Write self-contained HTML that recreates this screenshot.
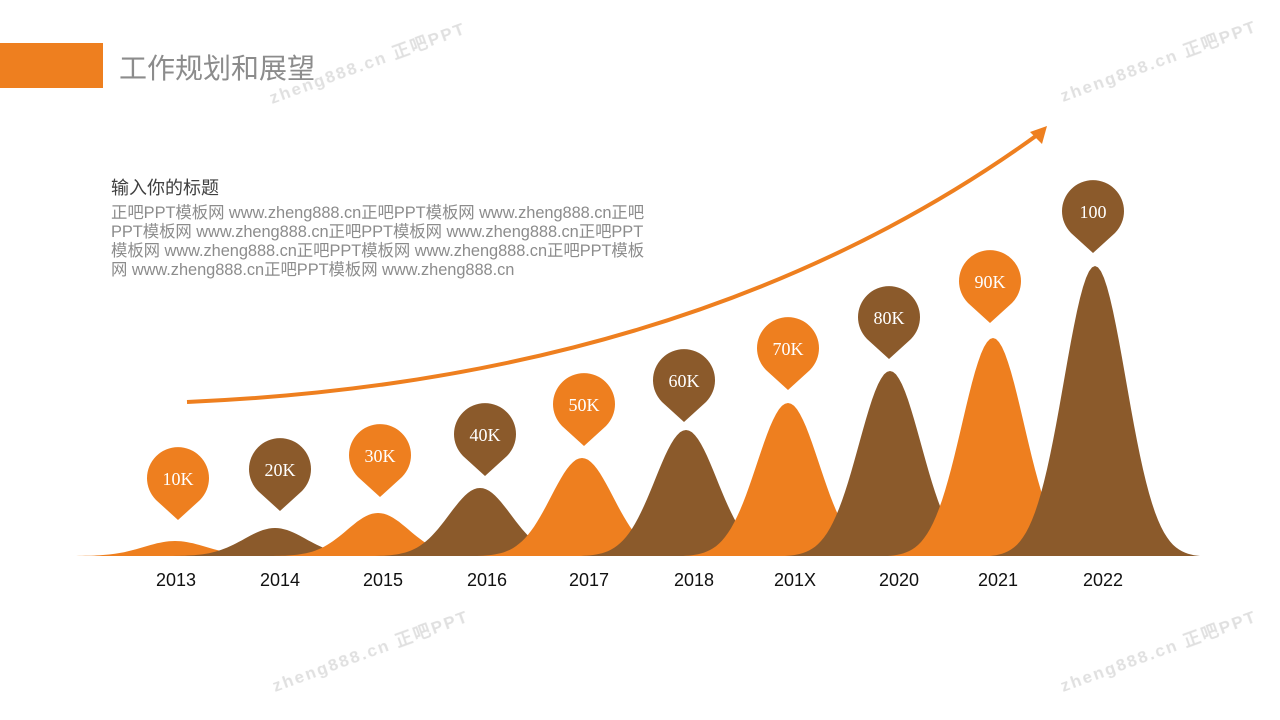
<!DOCTYPE html>
<html><head><meta charset="utf-8">
<style>
body{margin:0;width:1280px;height:720px;background:#fff;position:relative;overflow:hidden;font-family:"Liberation Sans","Noto Sans CJK SC",sans-serif}
.bar{position:absolute;left:0;top:43px;width:103px;height:45px;background:#EE7F1F}
.title{position:absolute;left:119px;top:51px;font-size:28px;color:#8c8c8c;line-height:36px}
.sub{position:absolute;left:111px;top:176px;font-size:18px;color:#404040;line-height:24px}
.body{position:absolute;left:111px;top:204px;font-size:16.4px;color:#8c8c8c;line-height:19px;white-space:nowrap;letter-spacing:-0.05px}
svg{position:absolute;left:0;top:0}
</style></head><body>
<div class="bar"></div>
<div class="title">工作规划和展望</div>
<div class="sub">输入你的标题</div>
<div class="body">正吧PPT模板网 www.zheng888.cn正吧PPT模板网 www.zheng888.cn正吧<br>PPT模板网 www.zheng888.cn正吧PPT模板网 www.zheng888.cn正吧PPT<br>模板网 www.zheng888.cn正吧PPT模板网 www.zheng888.cn正吧PPT模板<br>网 www.zheng888.cn正吧PPT模板网 www.zheng888.cn</div>
<svg id="s" width="1280" height="720" xmlns="http://www.w3.org/2000/svg">
<g id="curves"></g>
<path d="M187,402 Q700,380 1040,133" fill="none" stroke="#EE7F1F" stroke-width="4"/>
<polygon points="1047,126 1030,132 1042,144" fill="#EE7F1F"/>
<g id="pins"></g>
<g font-size="18" fill="#111" text-anchor="middle" font-family="Liberation Sans,sans-serif">
<text x="176" y="586">2013</text><text x="280" y="586">2014</text><text x="383" y="586">2015</text><text x="487" y="586">2016</text><text x="589" y="586">2017</text><text x="694" y="586">2018</text><text x="795" y="586">201X</text><text x="899" y="586">2020</text><text x="998" y="586">2021</text><text x="1103" y="586">2022</text>
</g>
<g font-size="17" fill="#ccc" opacity="0.6" font-weight="bold" font-family="Liberation Sans,sans-serif" letter-spacing="2">
<text transform="translate(272,104) rotate(-20)">zheng888.cn 正吧PPT</text>
<text transform="translate(1063,102) rotate(-20)">zheng888.cn 正吧PPT</text>
<text transform="translate(275,692) rotate(-20)">zheng888.cn 正吧PPT</text>
<text transform="translate(1063,692) rotate(-20)">zheng888.cn 正吧PPT</text>
</g>
</svg>
<script>
var O="#EE7F1F",B="#8B5A2B";
var c=[[175,541,O],[275,528,B],[378,513,O],[480,488,B],[582,458,O],[686,430,B],[788,403,O],[890,371,B],[993,338,O],[1095,266,B]];
var base=556,g="";
c.forEach(function(d){var h=base-d[1],s=31,R=105,p="M"+(d[0]-R)+","+base;
for(var x=-R;x<=R;x+=3){var t=Math.exp(-x*x/(2*s*s));var e=Math.exp(-R*R/(2*s*s));t=(t-e)/(1-e);p+=" L"+(d[0]+x)+","+(base-h*t).toFixed(1);}
p+=" L"+(d[0]+R)+","+base+" Z";g+='<path d="'+p+'" fill="'+d[2]+'"/>';});
document.getElementById("curves").innerHTML=g;
var pins=[[178,478,"10K",O],[280,469,"20K",B],[380,455,"30K",O],[485,434,"40K",B],[584,404,"50K",O],[684,380,"60K",B],[788,348,"70K",O],[889,317,"80K",B],[990,281,"90K",O],[1093,211,"100",B]];
var q="";
pins.forEach(function(p){var x=p[0],y=p[1],r=31;
q+='<path d="M'+(x-22)+','+(y+22)+' A'+r+','+r+' 0 1 1 '+(x+22)+','+(y+22)+' L'+x+','+(y+42)+' Z" fill="'+p[3]+'"/>';
q+='<text x="'+x+'" y="'+(y+7)+'" fill="#fff" font-size="18" text-anchor="middle" font-family="Liberation Serif,serif">'+p[2]+'</text>';});
document.getElementById("pins").innerHTML=q;
</script>
</body></html>
